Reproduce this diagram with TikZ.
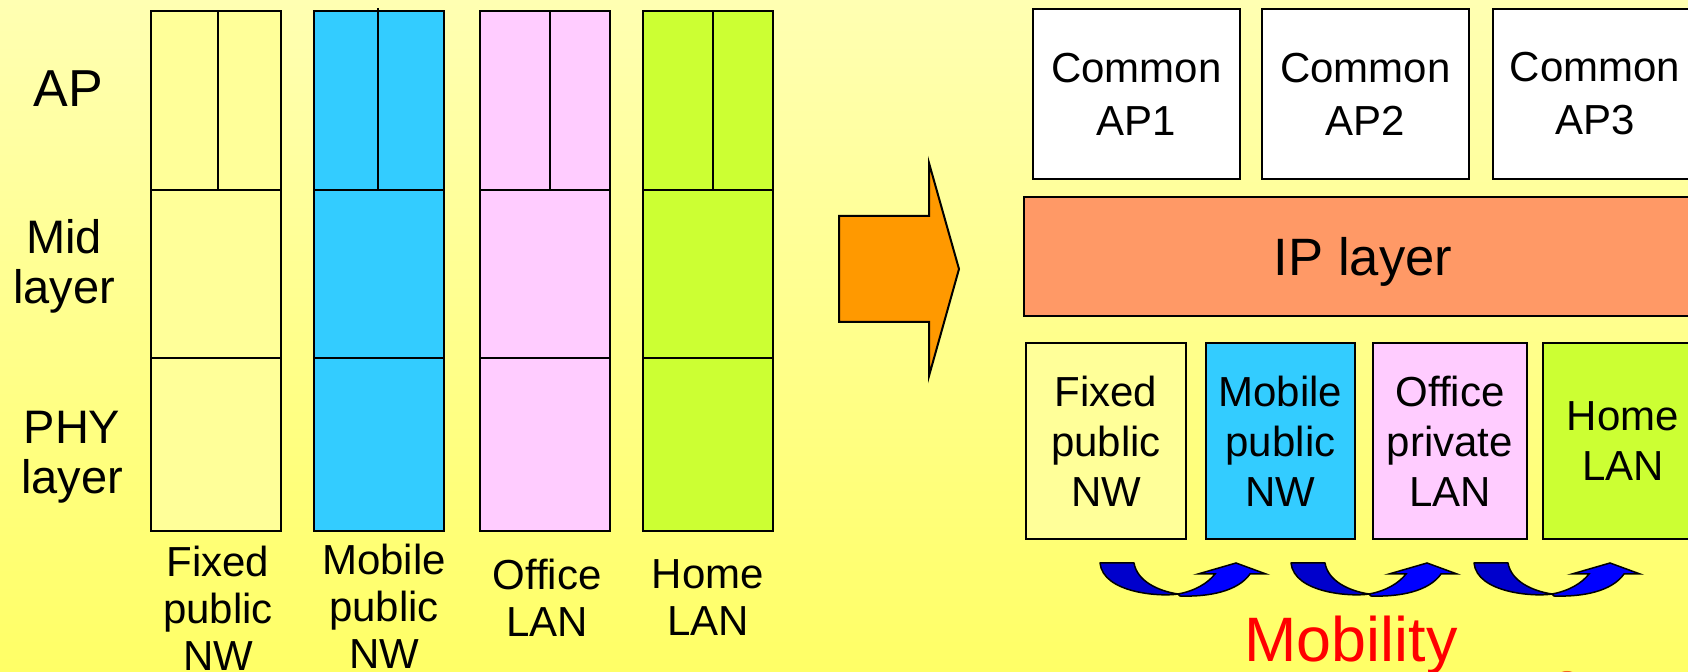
\documentclass[tikz,border=0pt]{standalone}
\usepackage{fontspec}
\setmainfont{Liberation Sans}
\usetikzlibrary{positioning}

\definecolor{bgtop}{HTML}{FFFFB2}
\definecolor{bgbot}{HTML}{FFFF66}
\definecolor{fixedc}{HTML}{FFFF99}
\definecolor{mobilec}{HTML}{33CCFF}
\definecolor{officec}{HTML}{FFCCFF}
\definecolor{homec}{HTML}{CCFF33}
\definecolor{ipc}{HTML}{FF9966}
\definecolor{arrowc}{HTML}{FF9900}
\definecolor{darkblue}{HTML}{0000CC}
\definecolor{brightblue}{HTML}{0000FF}
\definecolor{mobred}{HTML}{FF0000}
\definecolor{blobc}{HTML}{F26522}

\begin{document}
\begin{tikzpicture}[
        x=0.5pt, y=-0.5pt,
        cell/.style={draw, line width=1pt, inner sep=0pt, outer sep=0pt, minimum width=65pt},
        apcell/.style={cell, minimum height=89.5pt},
        midcell/.style={cell, minimum height=84pt},
        phycell/.style={cell, minimum height=86.5pt},
        divider/.style={line width=1pt},
        rowlabel/.style={align=center, font=\fontsize{23.5}{25}\selectfont},
        netlabel/.style={align=center, font=\fontsize{21}{23.5}\selectfont},
        box/.style={draw, line width=1pt, inner sep=0pt, outer sep=0pt, align=center, font=\fontsize{21}{25}\selectfont},
        commonbox/.style={box, fill=white, minimum width=103.5pt, minimum height=85pt, font=\fontsize{21}{26.5}\selectfont},
        netbox/.style={box, minimum height=98pt},
        bigarrow/.style={draw, line width=1pt, fill=arrowc, line join=miter},
        mobarrow/.pic={
            \draw[line width=0.75pt, fill=darkblue, line join=round] (0,0) -- (34,0) .. controls (37,18) and (58,28) .. (78,31) .. controls (60,34) and (3,30) .. (0,0) -- cycle;
            \draw[line width=0.75pt, fill=brightblue] (78,31) .. controls (95,28) and (108,20) .. (115,11) -- (98,11) -- (136,0) -- (166,11) -- (150,11) .. controls (138,28) and (110,34) .. (80,33) -- cycle;
        }
    ]
        \useasboundingbox (0,0) rectangle (1688,672);
        \clip (0,0) rectangle (1688,672);
        \shade[top color=bgtop, bottom color=bgbot] (0,0) rectangle (1688,672);

        % old stacks: one column per network
        \node[apcell, fill=fixedc] (fixap) at (216,100.5) {};
        \node[midcell, fill=fixedc, below=0pt of fixap] (fixmid) {};
        \node[phycell, fill=fixedc, below=0pt of fixmid] (fixphy) {};
        \draw[divider] ([xshift=1pt]fixap.north) -- ([xshift=1pt]fixap.south);

        \node[apcell, fill=mobilec, right=16.5pt of fixap] (mobap) {};
        \node[midcell, fill=mobilec, below=0pt of mobap] (mobmid) {};
        \node[phycell, fill=mobilec, below=0pt of mobmid] (mobphy) {};
        \draw[divider] ([xshift=-0.75pt, yshift=1.5pt]mobap.north) -- ([xshift=-0.75pt]mobap.south);

        \node[apcell, fill=officec, right=18pt of mobap] (offap) {};
        \node[midcell, fill=officec, below=0pt of offap] (offmid) {};
        \node[phycell, fill=officec, below=0pt of offmid] (offphy) {};
        \draw[divider] ([xshift=2.5pt]offap.north) -- ([xshift=2.5pt]offap.south);

        \node[apcell, fill=homec, right=16.5pt of offap] (homeap) {};
        \node[midcell, fill=homec, below=0pt of homeap] (homemid) {};
        \node[phycell, fill=homec, below=0pt of homemid] (homephy) {};
        \draw[divider] ([xshift=2.5pt]homeap.north) -- ([xshift=2.5pt]homeap.south);

        \node[rowlabel, font=\fontsize{26}{28}\selectfont] (aplbl) at (68,89) {AP};
        \node[rowlabel] (midlbl) at (64,266.5) {Mid\\layer};
        \node[rowlabel] (phylbl) at (72,457.5) {PHY\\layer};

        \node[netlabel] (fixlbl) at (218,608.5) {Fixed\\public\\NW};
        \node[netlabel] (moblbl) at (384,606.5) {Mobile\\public\\NW};
        \node[netlabel] (offlbl) at (547,597.5) {Office\\LAN};
        \node[netlabel] (homelbl) at (708,597.5) {Home\\LAN};

        % migration arrow
        \draw[bigarrow] (839,216) -- (929,216) -- (929,163) -- (959,269) -- (929,376) -- (929,322) -- (839,322) -- cycle;

        % new stack over IP
        \node[commonbox] (ap1) at (1136.5,94) {Common\\AP1};
        \node[commonbox, right=11pt of ap1] (ap2) {Common\\AP2};
        \node[commonbox, right=12pt of ap2, minimum width=102pt] (ap3) {Common\\AP3};

        \node[box, fill=ipc, minimum width=339pt, minimum height=59.5pt, text depth=0pt, font=\fontsize{26.3}{30}\selectfont] (ip) at (1363,256.5) {IP layer};

        \node[netbox, fill=fixedc, minimum width=80pt] (fixnw) at (1106,441) {Fixed\\public\\NW};
        \node[netbox, fill=mobilec, minimum width=74.5pt, right=10pt of fixnw] (mobnw) {Mobile\\public\\NW};
        \node[netbox, fill=officec, minimum width=77pt, right=9pt of mobnw] (offlan) {Office\\private\\LAN};
        \node[netbox, fill=homec, minimum width=80pt, right=8pt of offlan] (homelan) {Home\\LAN};

        \pic at (1100,563) {mobarrow};
        \pic at (1291,563) {mobarrow};
        \pic at (1474,563) {mobarrow};

        \node[font=\fontsize{31.4}{36}\selectfont, text=mobred, anchor=base, inner sep=0pt] (mobility) at (1351,662) {Mobility};

        \fill[blobc] (1567,687) circle (8pt);
    \end{tikzpicture}
\end{document}
